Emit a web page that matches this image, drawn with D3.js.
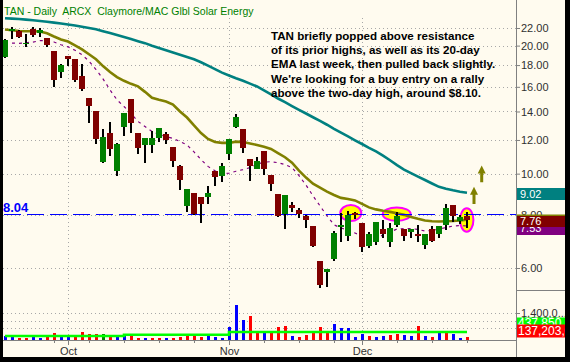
<!DOCTYPE html>
<html><head><meta charset="utf-8">
<script src="https://cdn.jsdelivr.net/npm/d3@7"></script>
<style>
body { margin: 0; background: #000; }
svg { display: block; }
text { font-family: "Liberation Sans", Arial, sans-serif; }
</style>
</head>
<body>
<svg id="chart" width="570" height="362"></svg>
<script>
// trading days, Sep 18 - Dec 22 2008
const dates = [
	"09-18","09-19","09-22","09-23","09-24","09-25","09-26","09-29","09-30",
	"10-01","10-02","10-03","10-06","10-07","10-08","10-09","10-10","10-13","10-14","10-15","10-16","10-17",
	"10-20","10-21","10-22","10-23","10-24","10-27","10-28","10-29","10-30","10-31",
	"11-03","11-04","11-05","11-06","11-07","11-10","11-11","11-12","11-13","11-14","11-17","11-18","11-19",
	"11-20","11-21","11-24","11-25","11-26","11-28",
	"12-01","12-02","12-03","12-04","12-05","12-08","12-09","12-10","12-11","12-12","12-15","12-16","12-17",
	"12-18","12-19","12-22"
];
const opens = [18.81,21.60,21.70,20.20,21.85,21.40,20.88,19.43,17.30,18.90,18.60,16.97,15.06,14.04,10.65,12.46,10.12,12.90,14.98,12.46,11.70,11.70,12.15,12.39,11.55,10.45,8.41,9.01,8.81,8.81,10.15,9.89,11.14,12.85,12.73,10.83,10.28,11.30,9.92,8.96,8.04,8.43,8.21,7.93,7.55,6.22,5.88,6.30,7.49,7.14,8.08,7.65,6.76,6.92,7.40,6.92,7.57,7.40,7.30,7.21,6.80,7.41,7.21,7.57,8.43,7.72,7.95];
const highs = [20.70,22.10,21.72,21.30,22.10,21.95,20.88,19.43,18.11,18.95,18.60,18.10,15.06,14.04,12.73,13.23,11.81,13.89,15.00,12.46,12.13,12.60,12.80,12.53,11.55,10.50,9.22,9.01,8.81,9.37,10.15,10.60,12.06,13.84,12.73,10.83,10.94,11.30,9.92,8.96,8.91,8.60,8.30,7.99,7.55,6.22,5.97,7.33,8.07,8.15,8.13,7.65,7.31,7.71,7.78,7.66,8.13,7.40,7.42,7.57,7.21,7.53,7.55,8.47,8.43,7.99,8.13];
const lows = [18.70,20.73,20.85,19.90,20.90,21.00,19.80,16.00,16.80,17.93,16.45,15.64,13.18,11.74,10.60,10.98,9.87,12.26,12.48,11.10,10.60,11.16,11.90,11.76,10.37,9.17,8.13,8.00,7.66,8.48,9.37,9.57,10.79,12.83,11.16,9.62,10.24,9.90,9.10,7.90,7.42,8.14,7.87,7.46,6.72,5.38,5.42,6.24,6.92,6.94,7.82,6.55,6.68,6.80,7.05,6.72,7.50,6.94,7.05,6.89,6.64,6.92,7.07,7.37,7.71,7.60,7.44];
const closes = [20.62,21.94,21.00,20.30,21.19,21.77,20.07,16.57,18.00,18.65,16.60,15.81,14.45,12.09,12.20,11.41,11.74,13.89,13.16,11.47,12.13,12.15,12.80,12.00,10.73,9.64,9.22,8.04,8.48,9.01,9.84,10.42,12.06,13.57,11.47,10.45,10.71,10.28,9.47,7.93,8.91,8.30,8.04,7.77,6.76,5.47,5.97,7.25,7.57,7.99,8.04,6.71,7.20,7.71,7.20,7.44,7.93,7.15,7.40,7.12,7.21,6.94,7.55,8.29,7.93,7.91,7.76];
// moving averages
const ma50 = [23.19,23.14,23.10,23.02,22.94,22.85,22.75,22.65,22.54,22.42,22.29,22.14,22.00,21.86,21.63,21.40,21.17,20.94,20.72,20.49,20.27,19.99,19.75,19.51,19.27,19.04,18.80,18.57,18.28,17.94,17.61,17.28,17.01,16.76,16.53,16.28,16.03,15.69,15.35,15.02,14.72,14.42,14.13,13.85,13.57,13.30,13.03,12.74,12.48,12.23,11.98,11.74,11.50,11.28,11.02,10.75,10.47,10.22,10.03,9.84,9.66,9.48,9.31,9.22,9.14,9.07,9.02];
const ema20 = [21.82,21.73,21.65,21.62,21.61,21.59,21.38,21.01,20.67,20.45,20.03,19.60,19.08,18.57,17.90,17.33,16.87,16.53,16.26,16.04,15.57,15.08,14.91,14.78,14.54,14.00,13.55,12.98,12.46,12.07,11.87,11.81,11.81,11.89,11.87,11.77,11.68,11.57,11.43,11.18,10.93,10.61,10.16,9.79,9.47,9.27,9.07,8.91,8.77,8.72,8.65,8.49,8.33,8.24,8.18,8.13,8.07,8.00,7.91,7.83,7.76,7.73,7.72,7.73,7.74,7.76,7.79];
const ma10 = [20.34,20.28,20.25,20.31,20.39,20.54,20.56,20.39,20.09,19.87,19.50,19.03,18.39,17.57,16.71,15.74,14.91,14.38,13.85,13.26,12.91,12.57,12.36,12.23,12.10,11.90,11.68,11.25,10.79,10.40,10.16,10.00,10.02,10.13,10.22,10.33,10.53,10.64,10.67,10.61,10.50,10.33,9.89,9.40,8.87,8.40,7.96,7.58,7.45,7.37,7.25,7.13,7.09,7.07,7.17,7.29,7.41,7.43,7.43,7.39,7.33,7.35,7.41,7.47,7.53,7.55,7.53];
// volume in thousands of shares; bar colour: u = up close, d = down close, n = unchanged
const volumesK = [207,171,104,104,223,119,223,378,259,223,259,414,311,311,311,171,223,223,259,104,104,104,104,104,104,171,259,223,171,223,171,104,673,1813,1036,1243,466,466,378,673,725,223,171,259,414,673,378,829,622,622,171,311,223,171,223,259,311,259,223,725,223,171,414,414,311,104,137.203];
const volDir = "uudduudduuddddnduuddudduddddduuuuuudduddduddddduuuuuduudduudududuuddd".split("");
const volAvgK = [207,207,207,207,207,207,207,207,207,207,207,207,207,207,207,207,207,275,275,275,275,275,275,275,275,275,275,275,275,275,275,275,414,414,414,414,414,414,414,414,414,414,414,414,414,414,414,414,414,414,414,414,414,414,414,414,414,414,414,414,414,414,414,414,414,414,414];
const volAvgLabel = "437,850";
const lastVolLabel = "137,203,0";

const priceTicks = [6, 8, 10, 12, 14, 16, 18, 20, 22];
const volTicks = [600000, 1000000, 1400000];
const volTickLabels = ["600,00...", "1,000,0...", "1,400,0..."];
const weekTicks = ["09-29","10-06","10-13","10-20","10-27","11-10","11-17","11-24","12-08","12-15","12-22"];
const monthTicks = ["10-01","11-03","12-01"];
const monthNames = ["Oct","Nov","Dec"];
const resistance = 8.04;
const title = "TAN - Daily  ARCX  Claymore/MAC Glbl Solar Energy";
const note = [
	"TAN briefly popped above resistance",
	"of its prior highs, as well as its 20-day",
	"EMA last week, then pulled back slightly.",
	"We're looking for a buy entry on a rally",
	"above the two-day high, around $8.10."
];
// highlighted spots: fractional day index and price
const circles = [{ d: 49.4, p: 8.08, rx: 10.5, ry: 8 }, { d: 55.96, p: 8.03, rx: 14, ry: 6.7 }, { d: 65.96, p: 7.78, rx: 6.7, ry: 11.7 }];
const arrows = [{ d: 67.0, top: 9.31, bottom: 8.48 }, { d: 68.1, top: 10.45, bottom: 9.55 }];

const volumes = volumesK.map(v => v * 1000);
const volAvg = volAvgK.map(v => v * 1000);

const svg = d3.select("#chart");
const W = 570, H = 362;
const plotL = 3, plotR = 516, rightEdge = 565, bottomEdge = 357;

const xi = d3.scaleLinear().domain([0, dates.length - 1]).range([5, 467]);
const x = d => xi(dates.indexOf(d));
const y = d3.scaleLog().domain([6, 22]).range([268, 28]);
const yv = d3.scaleLinear().domain([0, 1400000]).range([340, 313]);

svg.append("rect").attr("width", W).attr("height", H).attr("fill", "#000");
svg.append("rect").attr("x", plotL).attr("y", 0).attr("width", rightEdge - plotL).attr("height", bottomEdge).attr("fill", "#fffbef");

// grid
const grid = svg.append("g").attr("stroke", "#a8a8a8").attr("stroke-dasharray", "1,3").attr("shape-rendering", "crispEdges");
grid.selectAll(".hp").data(priceTicks).join("line")
	.attr("x1", plotL).attr("x2", plotR).attr("y1", d => Math.round(y(d)) + 0.5).attr("y2", d => Math.round(y(d)) + 0.5);
grid.selectAll(".hv").data(volTicks).join("line")
	.attr("x1", plotL).attr("x2", plotR).attr("y1", d => Math.round(yv(d)) + 0.5).attr("y2", d => Math.round(yv(d)) + 0.5);
grid.selectAll(".vm").data(monthTicks).join("line")
	.attr("x1", d => Math.round(x(d)) + 0.5).attr("x2", d => Math.round(x(d)) + 0.5).attr("y1", 18).attr("y2", 340);

// highlight circles
svg.append("g").selectAll("ellipse").data(circles).join("ellipse")
	.attr("cx", d => xi(d.d)).attr("cy", d => y(d.p)).attr("rx", d => d.rx).attr("ry", d => d.ry)
	.attr("fill", "#ffff00").attr("stroke", "#ff00ff").attr("stroke-width", 2);

// moving averages
const line = arr => d3.line().x((d, i) => xi(i)).y(d => y(d))(arr);
svg.append("path").attr("d", line(ma50)).attr("fill", "none").attr("stroke", "#008080").attr("stroke-width", 2.6);
svg.append("path").attr("d", line(ema20)).attr("fill", "none").attr("stroke", "#808000").attr("stroke-width", 2.6);
svg.append("path").attr("d", line(ma10)).attr("fill", "none").attr("stroke", "#800080").attr("stroke-width", 1.2).attr("stroke-dasharray", "3,4");

// resistance line
svg.append("line").attr("x1", plotL + 1).attr("x2", plotR).attr("y1", Math.round(y(resistance)) + 0.5).attr("y2", Math.round(y(resistance)) + 0.5)
	.attr("stroke", "#0000ff").attr("stroke-width", 1.2).attr("stroke-dasharray", "17,6");

// candles
const candles = svg.append("g").attr("shape-rendering", "crispEdges");
dates.forEach((d, i) => {
	const cx = Math.round(xi(i));
	const up = closes[i] >= opens[i];
	candles.append("rect").attr("x", cx - 1).attr("width", 2)
		.attr("y", y(highs[i])).attr("height", Math.max(1, y(lows[i]) - y(highs[i]))).attr("fill", "#000");
	const top = y(Math.max(opens[i], closes[i])), bot = y(Math.min(opens[i], closes[i]));
	candles.append("rect").attr("x", cx - 3).attr("width", 6)
		.attr("y", top).attr("height", Math.max(1.5, bot - top)).attr("fill", up ? "#008000" : "#800000");
});

// volume
const volColor = { u: "#0000ff", d: "#ff0000", n: "#008000" };
svg.append("g").attr("shape-rendering", "crispEdges").selectAll("rect").data(volumes).join("rect")
	.attr("x", (d, i) => Math.round(xi(i)) - 1).attr("width", 3)
	.attr("y", d => yv(d)).attr("height", d => yv(0) - yv(d))
	.attr("fill", (d, i) => volColor[volDir[i]]);
svg.append("path").attr("d", d3.line().curve(d3.curveStepAfter).x((d, i) => xi(i)).y(d => yv(d))(volAvg))
	.attr("fill", "none").attr("stroke", "#00ff00").attr("stroke-width", 2.6);

// axes
const axisColor = "#808080";
svg.append("line").attr("x1", plotR + 0.5).attr("x2", plotR + 0.5).attr("y1", 0).attr("y2", bottomEdge).attr("stroke", axisColor);
svg.append("line").attr("x1", plotR).attr("x2", rightEdge).attr("y1", 290.5).attr("y2", 290.5).attr("stroke", axisColor);
svg.append("line").attr("x1", plotL).attr("x2", plotR).attr("y1", 340.5).attr("y2", 340.5).attr("stroke", axisColor);

const styleAxis = g => {
	g.select(".domain").remove();
	g.selectAll(".tick line").attr("stroke", axisColor);
	g.selectAll(".tick text").attr("fill", "#303030").attr("font-size", 11).attr("font-family", "Liberation Sans, Arial, sans-serif");
};
svg.append("g").attr("transform", `translate(${plotR},0)`)
	.call(d3.axisRight(y).tickValues(priceTicks).tickFormat(d3.format(".2f")).tickSize(4).tickPadding(1))
	.call(styleAxis);
svg.append("g").attr("transform", `translate(${plotR},0)`)
	.call(d3.axisRight(yv).tickValues(volTicks).tickFormat((d, i) => volTickLabels[i]).tickSize(4).tickPadding(1))
	.call(styleAxis);
svg.append("g").attr("transform", "translate(0,340)")
	.call(d3.axisBottom(xi).tickValues(weekTicks.map(d => dates.indexOf(d))).tickFormat("").tickSize(3))
	.call(styleAxis);
svg.append("g").attr("transform", "translate(0,340)")
	.call(d3.axisBottom(xi).tickValues(monthTicks.map(d => dates.indexOf(d))).tickFormat((d, i) => monthNames[i]).tickSize(5).tickPadding(2))
	.call(styleAxis);

// right-hand value boxes (drawn bottom to top)
const last = a => a[a.length - 1];
const boxes = [
	{ v: last(ma50), color: "#008080", top: 188, h: 12, base: 198 },
	{ v: last(ema20), color: "#808000", top: 214.5, h: 11, base: 224 },
	{ v: last(ma10), color: "#800080", top: 221, h: 14, base: 231.5 },
	{ v: last(closes), color: "#800000", top: 216, h: 11, base: 225 }
];
boxes.forEach(b => {
	svg.append("rect").attr("x", plotR + 1).attr("y", b.top).attr("width", rightEdge - plotR).attr("height", b.h).attr("fill", b.color);
	svg.append("text").attr("x", plotR + 4).attr("y", b.base).attr("fill", "#fff").attr("font-size", 11).text(b.v.toFixed(2));
});
const vboxes = [
	{ color: "#00ff00", top: 317.5, h: 12, base: 327, text: volAvgLabel },
	{ color: "#ff0000", top: 324.5, h: 13, base: 335, text: lastVolLabel }
];
vboxes.forEach(b => {
	svg.append("rect").attr("x", plotR + 1).attr("y", b.top).attr("width", rightEdge - plotR).attr("height", b.h).attr("fill", b.color);
	svg.append("text").attr("x", plotR + 2).attr("y", b.base).attr("fill", "#fff").attr("font-size", 12).text(b.text);
});

// labels
svg.append("text").attr("x", 4).attr("y", 15).attr("fill", "#008000").attr("font-size", 10.5)
	.style("white-space", "pre").text(title);
svg.append("text").attr("x", 3).attr("y", 211.5).attr("fill", "#0000ff").attr("font-size", 13).attr("font-weight", "bold")
	.attr("font-family", "Liberation Serif, Times New Roman, serif").text(resistance.toFixed(2));
svg.append("g").selectAll("text").data(note).join("text")
	.attr("x", 271).attr("y", (d, i) => 40 + i * 14.2).attr("font-size", 11.6).attr("font-weight", "bold").attr("fill", "#000").text(d => d);

// arrows
svg.append("g").selectAll("path").data(arrows).join("path")
	.attr("d", a => {
		const cx = xi(a.d), t = y(a.top), b = y(a.bottom);
		return `M${cx},${t} L${cx + 4},${t + 8} L${cx + 1.5},${t + 8} L${cx + 1.5},${b} L${cx - 1.5},${b} L${cx - 1.5},${t + 8} L${cx - 4},${t + 8} Z`;
	})
	.attr("fill", "#808000");

// frame
svg.append("rect").attr("x", 0).attr("y", 0).attr("width", plotL).attr("height", H).attr("fill", "#000");
svg.append("rect").attr("x", rightEdge).attr("y", 0).attr("width", W - rightEdge).attr("height", H).attr("fill", "#000");
svg.append("rect").attr("x", 0).attr("y", bottomEdge).attr("width", W).attr("height", H - bottomEdge).attr("fill", "#000");
</script>
</body></html>
